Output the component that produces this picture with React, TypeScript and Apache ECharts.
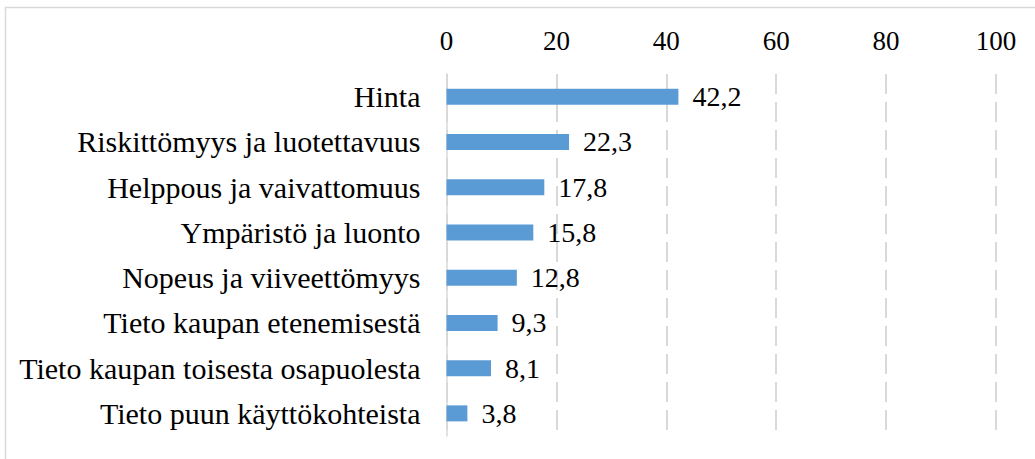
import React, { useEffect, useRef } from "react";
import * as echarts from "echarts";

const categories = [
  "Hinta",
  "Riskittömyys ja luotettavuus",
  "Helppous ja vaivattomuus",
  "Ympäristö ja luonto",
  "Nopeus ja viiveettömyys",
  "Tieto kaupan etenemisestä",
  "Tieto kaupan toisesta osapuolesta",
  "Tieto puun käyttökohteista",
];
const values = [42.2, 22.3, 17.8, 15.8, 12.8, 9.3, 8.1, 3.8];
const axisMin = 0;
const axisMax = 100;
const axisInterval = 20;

const FONT = "'Liberation Serif', serif";

export default function App() {
  const ref = useRef<HTMLDivElement>(null);
  useEffect(() => {
    document.body.style.margin = "0";
    if (!ref.current) return;
    const chart = echarts.init(ref.current, null, { renderer: "svg" });
    chart.setOption({
      animation: false,
      backgroundColor: "#ffffff",
      textStyle: { fontFamily: FONT },
      graphic: [
        {
          type: "rect",
          shape: { x: 5.5, y: 7.5, width: 1200, height: 600 },
          style: { fill: "none", stroke: "#d9d9d9", lineWidth: 1.5 },
          silent: true,
        },
      ],
      grid: { left: 446.5, top: 74, width: 549.5, height: 362 },
      xAxis: {
        type: "value",
        position: "top",
        min: axisMin,
        max: axisMax,
        interval: axisInterval,
        axisLine: { show: false },
        axisTick: { show: false },
        axisLabel: {
          color: "#000",
          fontFamily: FONT,
          fontSize: 27,
          margin: 20,
        },
        splitLine: {
          show: true,
          lineStyle: { color: "#d9d9d9", width: 2, type: [20, 8] },
        },
      },
      yAxis: {
        type: "category",
        data: categories,
        inverse: true,
        axisLine: { show: true, lineStyle: { color: "#d9d9d9", width: 1.5 } },
        axisTick: { show: false },
        axisLabel: {
          color: "#000",
          fontFamily: FONT,
          fontSize: 30,
          margin: 26,
        },
      },
      series: [
        {
          type: "bar",
          data: values,
          barWidth: 16,
          itemStyle: { color: "#5b9bd5" },
          label: {
            show: true,
            position: "right",
            distance: 14,
            color: "#000",
            fontFamily: FONT,
            fontSize: 28,
            formatter: (p: any) => String(p.value).replace(".", ","),
          },
        },
      ],
    });
    return () => chart.dispose();
  }, []);
  return <div ref={ref} style={{ width: 1035, height: 459 }} />;
}
